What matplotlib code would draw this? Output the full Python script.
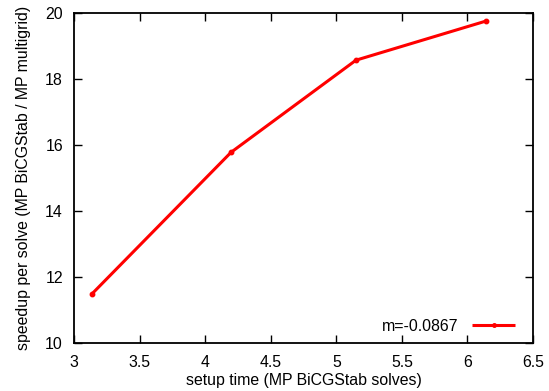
import matplotlib
matplotlib.use("Agg")
import matplotlib.pyplot as plt

setup_time = [3.135, 4.198, 5.15, 6.145]
speedup = [11.48, 15.78, 18.57, 19.76]
label = "m=-0.0867"
xticks = [3, 3.5, 4, 4.5, 5, 5.5, 6, 6.5]
yticks = [10, 12, 14, 16, 18, 20]

plt.rcParams['font.family'] = ['Liberation Sans', 'DejaVu Sans']
fig = plt.figure(figsize=(5.49, 3.91), dpi=100)
ax = fig.add_axes([74/549, 1-343/391, (533-74)/549, (343-13)/391])
ax.plot(setup_time, speedup, color='#ff0000', lw=2.2, marker='o', ms=3.2,
        label=label, solid_capstyle='butt')
ax.set_xlim(3, 6.5)
ax.set_ylim(10, 20)
ax.set_xticks(xticks)
ax.set_xticklabels([f"{t:g}" for t in xticks])
ax.set_yticks(yticks)
ax.tick_params(direction='in', length=6, width=1, top=True, right=True,
               labelsize=11.4, colors='black')
ax.tick_params(axis='x', pad=8.5)
ax.tick_params(axis='y', pad=8)
for s in ax.spines.values():
    s.set_linewidth(1.3)
ax.set_xlabel("setup time (MP BiCGStab solves)", fontsize=11.4, labelpad=2)
ax.set_ylabel("speedup per solve (MP BiCGStab / MP multigrid)", fontsize=11.4, labelpad=10)
leg = ax.legend(loc='center right', bbox_to_anchor=(0.961, 0.05), frameon=False,
                markerfirst=False, fontsize=11.4, handlelength=2.7, borderaxespad=0,
                borderpad=0, handletextpad=0.9, markerscale=0.8, numpoints=1)
fig.savefig("out.png", dpi=100)
